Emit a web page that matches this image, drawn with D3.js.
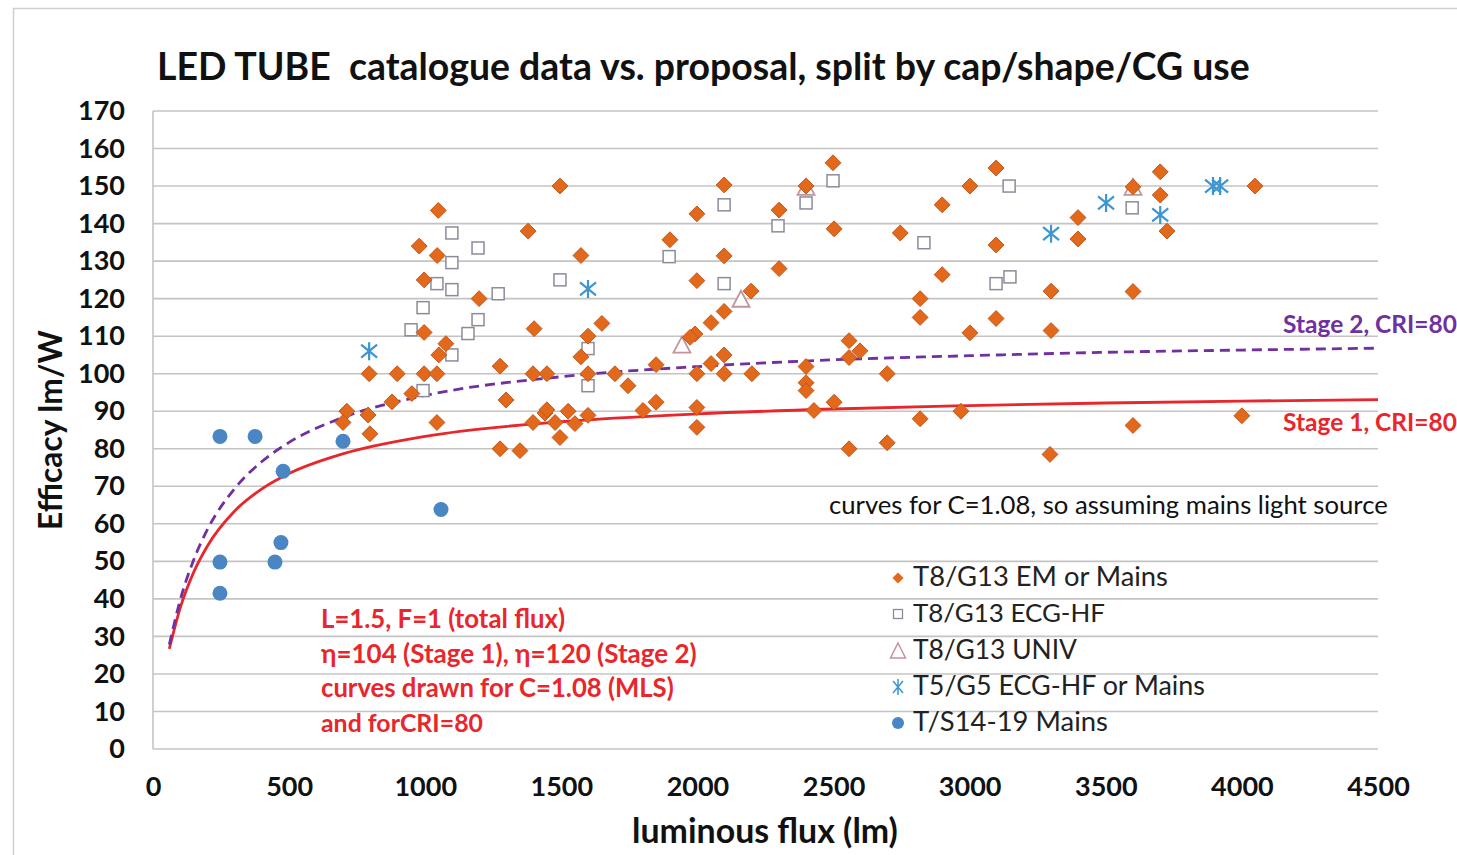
<!DOCTYPE html>
<html>
<head>
<meta charset="utf-8">
<script src="https://cdn.jsdelivr.net/npm/d3@7"></script>
<style>
  body { margin: 0; background: #fff; }
  svg { display: block; font-family: Lato, "Open Sans", sans-serif; }
</style>
</head>
<body>
<div id="chart"></div>
<script>
var WIDTH = 1457;
var HEIGHT = 855;

// luminous flux (lm), efficacy (lm/W)
var t8Mains = [
  [712, 90], [698, 87], [790, 89], [797, 84], [1043, 87], [1275, 80], [1348, 79.5],
  [1396, 87], [1440, 89.5], [1048, 143.5], [978, 134], [1044, 131.5], [996, 125],
  [1198, 120], [1378, 138], [996, 111], [1076, 108], [1050, 105], [1400, 112],
  [1275, 102], [794, 100], [897, 100], [996, 100], [1043, 100], [1396, 100],
  [1447, 100], [951, 94.7], [878, 92.5], [1297, 93], [1495, 150], [1572, 131.5],
  [1899, 135.7], [1998, 142.6], [2098, 150.3], [2098, 131.4], [1998, 124.8],
  [2300, 143.6], [2300, 128], [2399, 150], [2498, 156.2], [2502, 138.6],
  [2745, 137.5], [1598, 110], [1649, 113.4], [1572, 104.5], [2197, 122],
  [2098, 116.6], [2050, 113.6], [1991, 110.6], [1973, 109.7], [2557, 108.8],
  [2597, 106.1], [2557, 104.3], [1598, 100], [1697, 100], [1848, 102.4],
  [1998, 100], [2050, 102.7], [2098, 105], [2098, 100], [2200, 100],
  [2399, 101.9], [2399, 97.6], [2399, 95.5], [2697, 100], [1745, 96.8],
  [1447, 90.4], [1525, 90], [1477, 87], [1550, 86.7], [1598, 88.9], [1800, 90.2],
  [1848, 92.4], [1998, 91], [1998, 85.7], [2428, 90.2], [2502, 92.4], [1495, 83],
  [2557, 80], [2697, 81.6], [3097, 154.8], [3001, 150], [2899, 145], [3097, 134.3],
  [2899, 126.4], [2818, 120], [2818, 115], [3001, 110.9], [3097, 114.7],
  [3299, 122], [3299, 111.5], [3600, 121.9], [3398, 141.6], [3398, 135.9],
  [3600, 149.8], [3700, 153.8], [3700, 147.6], [3725, 138], [4048, 150],
  [2818, 88], [2968, 90], [3600, 86.2], [4000, 88.8], [3295, 78.5]
];
var t8Ecg = [
  [1098, 137.5], [1194, 133.5], [1098, 129.6], [1043, 124], [1098, 122.4],
  [1268, 121.3], [992, 117.6], [1194, 114.4], [948, 111.7], [1157, 110.7],
  [1098, 105], [992, 95.5], [2498, 151.4], [2399, 145.5], [2098, 145],
  [2296, 139.4], [1896, 131.2], [1495, 125], [2098, 124], [1598, 106.7],
  [1598, 96.8], [3145, 150], [2832, 134.9], [3597, 144.2], [3148, 125.8], [3097, 124]
];
var t8Univ = [[1943, 107.5], [2160, 119.7], [2399, 149.5], [3600, 149.5]];
var t5 = [[794, 106], [1598, 122.6], [3299, 137.3], [3501, 145.5], [3700, 142.3], [3894, 150], [3920, 150]];
var tsMains = [[246, 83.3], [375, 83.3], [698, 82], [478, 74], [1058, 63.8], [470, 55], [246, 49.8], [448, 49.8], [246, 41.5]];

// limit curves
var stage1 = [[60, 26.7], [100, 37.6], [150, 47.2], [200, 54.1], [300, 63.4], [400, 69.3], [500, 73.4],
  [700, 78.7], [1000, 83.3], [1500, 87.2], [2000, 89.3], [2500, 90.6], [3000, 91.5], [3500, 92.2], [4000, 92.7], [4500, 93.1]];
var stage2 = [[60, 27.8], [100, 39.7], [150, 50.5], [200, 58.5], [300, 69.4], [400, 76.6], [500, 81.7],
  [700, 88.4], [1000, 94.2], [1500, 99.2], [2000, 101.9], [2500, 103.7], [3000, 104.8], [3500, 105.7], [4000, 106.3], [4500, 106.8]];

var xTicks = [0, 500, 1000, 1500, 2000, 2500, 3000, 3500, 4000, 4500];
var yTicks = [0, 10, 20, 30, 40, 50, 60, 70, 80, 90, 100, 110, 120, 130, 140, 150, 160, 170];

var legendLabels = ["T8/G13 EM or Mains", "T8/G13 ECG-HF", "T8/G13 UNIV", "T5/G5 ECG-HF or Mains", "T/S14-19 Mains"];
var noteLines = ["L=1.5, F=1 (total flux)", "\u03b7=104 (Stage 1), \u03b7=120 (Stage 2)", "curves drawn for C=1.08 (MLS)", "and forCRI=80"];

var ORANGE = "#e2681c", ORANGE_EDGE = "#c4561a";
var SQUARE = "#8a8c9c", TRI = "#c2949c", STAR = "#3d96d2", BLUE = "#4a86c4";
var RED = "#e8262b", PURPLE = "#7030a0";

var M = {left: 153, right: 1378, top: 111, bottom: 749};

var svg = d3.select("#chart").append("svg").attr("width", WIDTH).attr("height", HEIGHT);

// thin frame of the chart object
svg.append("rect").attr("x", 13.5).attr("y", 8.5).attr("width", 1470).attr("height", 870)
  .attr("fill", "none").attr("stroke", "#cfcfcf").attr("stroke-width", 1.5);

var x = d3.scaleLinear().domain([0, 4500]).range([M.left, M.right]);
var y = d3.scaleLinear().domain([0, 170]).range([M.bottom, M.top]);

function fit(sel, w) {
  var cur = sel.node().getComputedTextLength();
  sel.attr("font-size", parseFloat(sel.attr("font-size")) * w / cur);
}

// gridlines
svg.append("g").selectAll("line").data(yTicks).enter().append("line")
  .attr("x1", M.left).attr("x2", M.right)
  .attr("y1", d => y(d)).attr("y2", d => y(d))
  .attr("stroke", "#c4c4c4").attr("stroke-width", 1.6);
svg.append("line").attr("x1", M.left).attr("x2", M.left).attr("y1", M.top).attr("y2", M.bottom)
  .attr("stroke", "#c4c4c4").attr("stroke-width", 1.6);

// axes
var yAxis = svg.append("g").attr("transform", `translate(${M.left},0)`)
  .call(d3.axisLeft(y).tickValues(yTicks).tickSize(0).tickPadding(28));
var xAxis = svg.append("g").attr("transform", `translate(0,${M.bottom})`)
  .call(d3.axisBottom(x).tickValues(xTicks).tickFormat(d3.format("d")).tickSize(0).tickPadding(28));
[xAxis, yAxis].forEach(a => {
  a.select(".domain").remove();
  a.selectAll("text").attr("font-size", 27).attr("font-weight", "bold").attr("fill", "#111")
    .attr("font-family", "Lato, sans-serif");
});

// curves
var line = d3.line().x(d => x(d[0])).y(d => y(d[1])).curve(d3.curveMonotoneX);
svg.append("path").datum(stage1).attr("d", line).attr("fill", "none")
  .attr("stroke", RED).attr("stroke-width", 2.8);
svg.append("path").datum(stage2).attr("d", line).attr("fill", "none")
  .attr("stroke", PURPLE).attr("stroke-width", 2.8).attr("stroke-dasharray", "10,6");

// markers
var diamond = d3.symbol().type(d3.symbolDiamond2).size(160);
var gPts = svg.append("g");

gPts.selectAll(".sq").data(t8Ecg).enter().append("rect")
  .attr("x", d => x(d[0]) - 6).attr("y", d => y(d[1]) - 6).attr("width", 12).attr("height", 12)
  .attr("fill", "#fff").attr("stroke", SQUARE).attr("stroke-width", 1.5);

gPts.selectAll(".tri").data(t8Univ).enter().append("path")
  .attr("transform", d => `translate(${x(d[0])},${y(d[1])})`)
  .attr("d", "M0,-9L8.5,7L-8.5,7Z")
  .attr("fill", "#fff").attr("stroke", TRI).attr("stroke-width", 1.8);

gPts.selectAll(".dia").data(t8Mains).enter().append("path")
  .attr("transform", d => `translate(${x(d[0])},${y(d[1])})`)
  .attr("d", diamond).attr("fill", ORANGE).attr("stroke", ORANGE_EDGE).attr("stroke-width", 1);

var starPath = "M0,-9V9M-8,-6.5L8,6.5M-8,6.5L8,-6.5";
gPts.selectAll(".star").data(t5).enter().append("path")
  .attr("transform", d => `translate(${x(d[0])},${y(d[1])})`)
  .attr("d", starPath).attr("fill", "none").attr("stroke", STAR).attr("stroke-width", 2.2);

gPts.selectAll(".dot").data(tsMains).enter().append("circle")
  .attr("cx", d => x(d[0])).attr("cy", d => y(d[1])).attr("r", 7.5).attr("fill", BLUE);

// titles
var title = svg.append("text").attr("x", 157).attr("y", 80).attr("font-size", 32)
  .attr("font-weight", "bold").attr("fill", "#111").attr("xml:space", "preserve")
  .text("LED TUBE  catalogue data vs. proposal, split by cap/shape/CG use");
fit(title, 1093);

var xt = svg.append("text").attr("x", 765).attr("y", 843).attr("text-anchor", "middle")
  .attr("font-size", 28).attr("font-weight", "bold").attr("fill", "#111").text("luminous flux (lm)");
fit(xt, 266);

var yt = svg.append("text").attr("transform", "translate(62,430) rotate(-90)").attr("text-anchor", "middle")
  .attr("font-size", 28).attr("font-weight", "bold").attr("fill", "#111").text("Efficacy lm/W");
fit(yt, 200);

// curve labels
var s2 = svg.append("text").attr("x", 1283).attr("y", 333).attr("font-size", 24)
  .attr("font-weight", "bold").attr("fill", PURPLE).text("Stage 2, CRI=80");
fit(s2, 174);
var s1 = svg.append("text").attr("x", 1283).attr("y", 431).attr("font-size", 24)
  .attr("font-weight", "bold").attr("fill", RED).text("Stage 1, CRI=80");
fit(s1, 174);

var cv = svg.append("text").attr("x", 829).attr("y", 514).attr("font-size", 22)
  .attr("fill", "#111").text("curves for C=1.08, so assuming mains light source");
fit(cv, 559);

// red note block
var noteW = [244, 376, 353, 162];
noteLines.forEach((t, i) => {
  var n = svg.append("text").attr("x", 321).attr("y", 628 + i * 34.5).attr("font-size", 23)
    .attr("font-weight", "bold").attr("fill", RED).text(t);
  fit(n, noteW[i]);
});

// legend
var legY = [578, 614, 651, 687, 723];
var legW = [255, 192, 164, 292, 195];
var leg = svg.append("g");
legendLabels.forEach((t, i) => {
  var ly = legY[i];
  var lt = leg.append("text").attr("x", 913).attr("y", ly + 8).attr("font-size", 24)
    .attr("fill", "#222").text(t);
  fit(lt, legW[i]);
});
leg.append("path").attr("transform", `translate(898,${legY[0]})`)
  .attr("d", d3.symbol().type(d3.symbolDiamond2).size(80)).attr("fill", ORANGE);
leg.append("rect").attr("x", 893.5).attr("y", legY[1] - 4.5).attr("width", 9).attr("height", 9)
  .attr("fill", "#fff").attr("stroke", SQUARE).attr("stroke-width", 1.3);
leg.append("path").attr("transform", `translate(898,${legY[2]})`).attr("d", "M0,-8L7.5,7L-7.5,7Z")
  .attr("fill", "#fff").attr("stroke", TRI).attr("stroke-width", 1.5);
leg.append("path").attr("transform", `translate(898,${legY[3]})`).attr("d", "M0,-8V8M-5,-6L5,6M-5,6L5,-6")
  .attr("fill", "none").attr("stroke", STAR).attr("stroke-width", 1.5);
leg.append("circle").attr("cx", 898).attr("cy", legY[4]).attr("r", 6).attr("fill", BLUE);
</script>
</body>
</html>
